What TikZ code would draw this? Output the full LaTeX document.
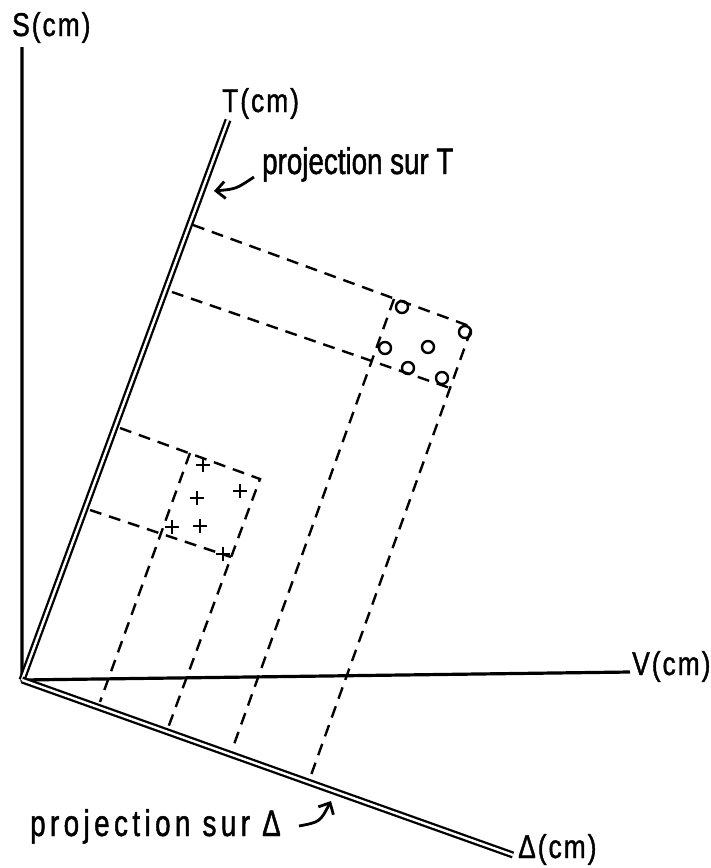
\documentclass[tikz,border=0pt]{standalone}
\usepackage{fontspec}
\setmainfont[FakeStretch=0.75,FakeBold=1.2]{Liberation Sans}
\newfontfamily\spacedfont[FakeStretch=0.75,FakeBold=1.2,LetterSpace=12]{Liberation Sans}
\newfontfamily\labelfont[FakeStretch=0.8,FakeBold=1.2,LetterSpace=6]{Liberation Sans}
\usetikzlibrary{arrows.meta}
\begin{document}
\begin{tikzpicture}[x=1pt,y=-1pt,
  axis/.style={line width=3.2pt},
  dblaxis/.style={double, line width=2.3pt, double distance=2.4pt},
  proj/.style={line width=2.4pt, dash pattern=on 12pt off 8pt},
  lbl/.style={font=\labelfont\fontsize{33}{33}\selectfont, inner sep=0pt},
  txt/.style={font=\fontsize{37}{37}\selectfont, inner sep=0pt},
  ptarrow/.style={line width=2.8pt, -{Straight Barb[length=9pt,width=17pt,line width=2.8pt]}},
  crossmark/.style={line width=2.4pt},
  circmark/.style={line width=2.4pt}]
\useasboundingbox (0,0) rectangle (711,868);

% axes
\coordinate (O) at (22,680);
\coordinate (Stop) at (22,47);
\coordinate (Vend) at (630,672);
\coordinate (Tend) at (228,120);
\coordinate (Dend) at (513,855);
\draw[axis] (Stop) -- (O) -- (Vend);
\draw[dblaxis] (O) -- (Tend);
\draw[dblaxis] (O) -- (Dend);

% upper cluster projections
\coordinate (t1) at (193,225);
\coordinate (t2) at (172,292);
\coordinate (UTR) at (472,327);
\coordinate (UTL) at (394,299);
\coordinate (UBR) at (450,388);
\coordinate (d3) at (232,750);
\coordinate (d4) at (310,778);
\draw[proj] (t1) -- (UTR) -- (d4);
\draw[proj] (t2) -- (UBR);
\draw[proj] (UTL) -- (d3);

% lower cluster projections
\coordinate (t3) at (120,428);
\coordinate (t4) at (90,510);
\coordinate (LTR) at (260,479);
\coordinate (LTL) at (190,453);
\coordinate (LBR) at (231,557);
\coordinate (d1) at (100,702);
\coordinate (d2) at (168,728);
\draw[proj] (t3) -- (LTR) -- (d2);
\draw[proj] (t4) -- (LBR);
\draw[proj] (LTL) -- (d1);

% circles
\foreach \p in {(402,307),(465,332),(385,348),(428,347),(408,368),(442,378)}
  \draw[circmark] \p circle (6pt);
% crosses
\foreach \x/\y in {203/465,240/491,197/498,200/526,172/527,223/554}
  \draw[crossmark] (\x-7,\y) -- (\x+7,\y) (\x,\y-7) -- (\x,\y+7);

% labels
\node[lbl, anchor=base west] (Slab) at (12,36) {S(cm)};
\node[lbl, anchor=base west] (Tlab) at (222,112) {T(cm)};
\node[lbl, anchor=base west] (Vlab) at (632,675) {V(cm)};
\node[lbl, anchor=base west] (Dlab) at (518,858) {Δ(cm)};
\node[txt, anchor=base west] (projT) at (262,174) {projection sur T};
\node[txt, anchor=base west, font=\spacedfont\fontsize{37}{37}\selectfont] (projD) at (30,836) {projection sur Δ};

% arrows
\coordinate (aT1) at (254,177);
\coordinate (aT2) at (214,191);
\coordinate (aD1) at (299,826);
\coordinate (aD2) at (331,801);
\draw[ptarrow] (aT1) .. controls (236,189) .. (aT2);
\draw[ptarrow] (aD1) .. controls (320,822) .. (aD2);
\end{tikzpicture}
\end{document}
